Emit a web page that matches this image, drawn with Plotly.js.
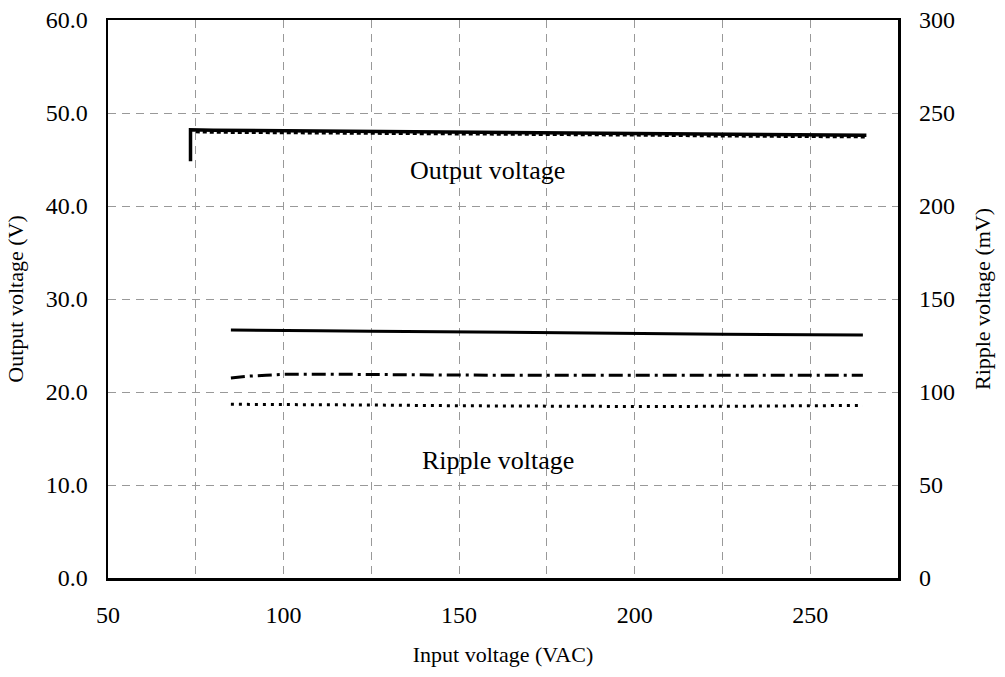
<!DOCTYPE html>
<html>
<head>
<meta charset="utf-8">
<script src="https://cdn.plot.ly/plotly-3.0.1.min.js"></script>
<style>html,body{margin:0;padding:0;background:#fff}#chart{width:1005px;height:677px}</style>
</head>
<body>
<div id="chart"></div>
<script>
// Output voltage (V) vs input voltage (VAC)
const outX      = [73.5, 73.5, 80, 100, 125, 150, 175, 200, 225, 250, 266];
const outSolid  = [44.8, 48.2, 48.15, 48.1, 48.0, 47.95, 47.85, 47.8, 47.7, 47.65, 47.6];
const outDotX   = [75, 80, 100, 125, 150, 175, 200, 225, 250, 266];
const outDot    = [47.95, 47.9, 47.85, 47.8, 47.7, 47.65, 47.6, 47.5, 47.45, 47.4];

// Ripple voltage (mV) vs input voltage (VAC)
const ripX      = [85, 90, 95, 100, 110, 125, 150, 175, 200, 225, 250, 265];
const ripSolid  = [133.3, 133.3, 133.2, 133.1, 132.9, 132.7, 132.2, 131.8, 131.5, 131.1, 130.8, 130.6];
const ripDashDot= [107.5, 108.5, 109.0, 109.5, 109.6, 109.3, 109.1, 109.0, 109.0, 109.0, 109.0, 109.0];
const ripDot    = [93.4, 93.4, 93.3, 93.3, 93.1, 93.0, 92.6, 92.3, 92.2, 92.3, 92.7, 92.8];

// Axis ticks
const xTickVals  = [50, 75, 100, 125, 150, 175, 200, 225, 250, 275];
const xTickText  = ["50", "", "100", "", "150", "", "200", "", "250", ""];
const yLeftVals  = [0, 10, 20, 30, 40, 50, 60];
const yLeftText  = ["0.0", "10.0", "20.0", "30.0", "40.0", "50.0", "60.0"];
const yRightVals = [0, 50, 100, 150, 200, 250, 300];
const yRightText = ["0", "50", "100", "150", "200", "250", "300"];

const FONT = "Liberation Serif";
const gridDash = "8px,6px";

const traces = [
  {x: outX, y: outSolid, mode: "lines", line: {color: "#000", width: 3.5}, yaxis: "y", name: "Output (solid)"},
  {x: outDotX, y: outDot, mode: "lines", line: {color: "#000", width: 2.5, dash: "4px,3px"}, yaxis: "y", name: "Output (dotted)"},
  {x: ripX, y: ripSolid, mode: "lines", line: {color: "#000", width: 3}, yaxis: "y2", name: "Ripple (solid)"},
  {x: ripX, y: ripDashDot, mode: "lines", line: {color: "#000", width: 3, dash: "14px,5px,3px,5px"}, yaxis: "y2", name: "Ripple (dash-dot)"},
  {x: ripX, y: ripDot, mode: "lines", line: {color: "#000", width: 3, dash: "3px,5px"}, yaxis: "y2", name: "Ripple (dotted)"}
];

const layout = {
  width: 1005, height: 677,
  margin: {l: 108, r: 107, t: 20, b: 99},
  paper_bgcolor: "#fff", plot_bgcolor: "#fff",
  showlegend: false,
  font: {family: FONT, color: "#000", size: 24},
  xaxis: {
    range: [50, 275],
    tickmode: "array", tickvals: xTickVals, ticktext: xTickText,
    showgrid: true, gridcolor: "#999", gridwidth: 1, griddash: gridDash,
    showline: true, linecolor: "#000", linewidth: 2.5, mirror: true,
    ticks: "", ticklabelstandoff: 14, zeroline: false,
    tickfont: {family: FONT, size: 24, color: "#000"},
    title: {text: "Input voltage (VAC)", font: {family: FONT, size: 22, color: "#000"}, standoff: 20},
    automargin: false
  },
  yaxis: {
    range: [0, 60],
    tickmode: "array", tickvals: yLeftVals, ticktext: yLeftText,
    showgrid: true, gridcolor: "#999", gridwidth: 1, griddash: gridDash,
    showline: true, linecolor: "#000", linewidth: 2.5, mirror: true,
    ticks: "", ticklabelstandoff: 13, zeroline: false,
    tickfont: {family: FONT, size: 24, color: "#000"},
    title: {text: "Output voltage (V)", font: {family: FONT, size: 22, color: "#000"}, standoff: 16},
    automargin: false
  },
  yaxis2: {
    range: [0, 300], overlaying: "y", side: "right",
    tickmode: "array", tickvals: yRightVals, ticktext: yRightText,
    showgrid: false, showline: false, zeroline: false,
    ticks: "", ticklabelstandoff: 20,
    tickfont: {family: FONT, size: 24, color: "#000"},
    title: {text: "Ripple voltage (mV)", font: {family: FONT, size: 22, color: "#000"}, standoff: 20},
    automargin: false
  },
  annotations: [
    {x: 158, y: 43.8, xref: "x", yref: "y", text: "Output voltage", showarrow: false,
     font: {family: FONT, size: 26, color: "#000"}},
    {x: 161, y: 12.6, xref: "x", yref: "y", text: "Ripple voltage", showarrow: false,
     font: {family: FONT, size: 26, color: "#000"}}
  ]
};

Plotly.newPlot("chart", traces, layout, {displayModeBar: false, staticPlot: true});
</script>
</body>
</html>
